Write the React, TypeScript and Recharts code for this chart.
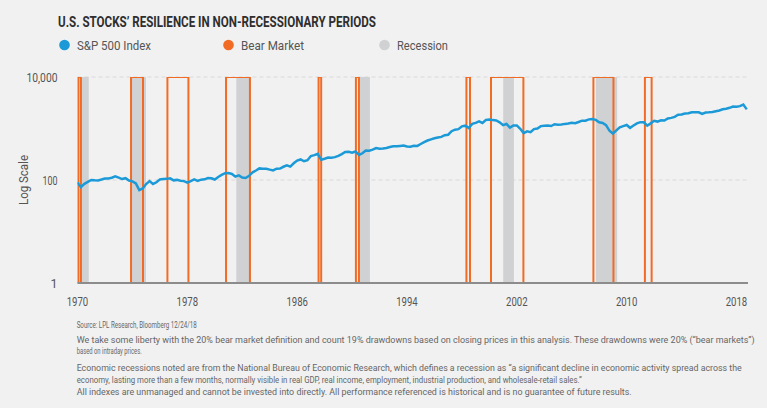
// S&P 500 on a log scale with bear markets (orange boxes) and recessions (grey bands)

import React from 'react'
import { ComposedChart, Line, XAxis, YAxis, CartesianGrid, ReferenceArea } from 'recharts'

// ============================================
// Data
// ============================================

const firstYear = 1970

// quarterly S&P 500 closes, 1970 Q1 .. 2018 Q4 (last one = 12/24/18)
const sp500Quarterly = [
  89.6, 72.7, 84.3, 92.2,
  100.3, 99.0, 98.3, 102.1,
  107.2, 107.1, 110.6, 118.1,
  111.5, 104.3, 108.4, 97.6,
  94.0, 86.0, 63.5, 68.6,
  83.4, 95.2, 83.9, 90.2,
  102.8, 104.3, 105.2, 107.5,
  98.4, 100.5, 96.5, 95.1,
  89.2, 95.5, 102.5, 96.1,
  101.6, 102.9, 109.3, 107.9,
  102.1, 114.2, 125.5, 135.8,
  136.0, 131.2, 116.2, 122.6,
  112.0, 109.6, 120.4, 140.6,
  153.0, 168.1, 166.1, 164.9,
  159.2, 153.2, 166.1, 167.2,
  180.7, 191.9, 182.1, 211.3,
  238.9, 250.8, 231.3, 242.2,
  291.7, 304.0, 321.8, 247.1,
  258.9, 273.5, 271.9, 277.7,
  294.9, 318.0, 349.2, 353.4,
  339.9, 358.0, 306.1, 330.2,
  375.2, 371.2, 387.9, 417.1,
  403.7, 408.1, 417.8, 435.7,
  451.7, 450.5, 458.9, 466.5,
  445.8, 444.3, 462.7, 459.3,
  500.7, 544.8, 584.4, 615.9,
  645.5, 670.6, 687.3, 740.7,
  757.1, 885.1, 947.3, 970.4,
  1101.8, 1133.8, 1017.0, 1229.2,
  1286.4, 1372.7, 1282.7, 1469.3,
  1498.6, 1454.6, 1436.5, 1320.3,
  1160.3, 1224.4, 1040.9, 1148.1,
  1147.4, 989.8, 815.3, 879.8,
  848.2, 974.5, 996.0, 1111.9,
  1126.2, 1140.8, 1114.6, 1211.9,
  1180.6, 1191.3, 1228.8, 1248.3,
  1294.8, 1270.2, 1335.9, 1418.3,
  1420.9, 1503.4, 1526.8, 1468.4,
  1322.7, 1280.0, 1166.4, 903.3,
  797.9, 919.3, 1057.1, 1115.1,
  1169.4, 1030.7, 1141.2, 1257.6,
  1325.8, 1320.6, 1131.4, 1257.6,
  1408.5, 1362.2, 1440.7, 1426.2,
  1569.2, 1606.3, 1681.6, 1848.4,
  1872.3, 1960.2, 1972.3, 2058.9,
  2067.9, 2063.1, 1920.0, 2043.9,
  2059.7, 2098.9, 2168.3, 2238.8,
  2362.7, 2423.4, 2519.4, 2673.6,
  2640.9, 2718.4, 2914.0, 2351.1,
]

// bear market windows (as drawn)
const bearStart = [1970.05, 1973.9, 1976.55, 1980.82, 1987.56, 1990.28, 1998.33, 2000.12, 2007.58, 2011.33]
const bearEnd = [1970.25, 1974.77, 1978.08, 1982.56, 1987.75, 1990.5, 1998.59, 2002.48, 2009.04, 2011.82]

// recession windows (as drawn)
const recessionStart = [1970.0, 1973.95, 1981.57, 1990.45, 2001.01, 2007.76]
const recessionEnd = [1970.82, 1974.99, 1982.6, 1991.3, 2001.79, 2009.31]

const xTicks = [1970, 1978, 1986, 1994, 2002, 2010, 2018]
const yTicks = [1, 100, 10000]
const yTickLabels = ['1', '100', '10,000']

const footnotes = [
  'Source: LPL Research, Bloomberg  12/24/18',
  'We take some liberty with the 20% bear market definition and count 19% drawdowns based on closing prices in this analysis. These drawdowns were 20% (\u201Cbear markets\u201D)',
  'based on intraday prices.',
  'Economic recessions noted are from the National Bureau of Economic Research, which defines a recession as \u201Ca significant decline in economic activity spread across the',
  'economy, lasting more than a few months, normally visible in real GDP, real income, employment, industrial production, and wholesale-retail sales.\u201D',
  'All indexes are unmanaged and cannot be invested into directly. All performance referenced is historical and is no guarantee of future results.',
]

// ============================================
// Styles
// ============================================

const BLUE = '#1b9ad7'
const ORANGE = '#f26b25'
const GREY = '#d0d1d3'
const BG = '#f1f1f1'
const FONT = 'Roboto, "Liberation Sans", sans-serif'

const footX = 76.7
const footBaselines = [328.3, 342.5, 354, 370.6, 382.5, 394.5]
const footWidths = [120, 678, 65, 665, 505, 555]

const chartData = sp500Quarterly.map((v, i) => ({ x: firstYear + i * 0.25, sp500: v }))

// ============================================
// Ticks
// ============================================

function XTick({ x, y, payload }: any) {
  return (
    <text
      x={x}
      y={y + 23}
      textAnchor="middle"
      fontSize={12}
      fill="#555"
      fontFamily={FONT}
      textLength={21.5}
      lengthAdjust="spacingAndGlyphs"
    >
      {payload.value}
    </text>
  )
}

function YTick({ x, y, payload }: any) {
  const label = yTickLabels[yTicks.indexOf(payload.value)]
  const widths: Record<string, number> = { '100': 15, '10,000': 31 }
  return (
    <text
      x={x}
      y={y + 4.5}
      textAnchor="end"
      fontSize={12.5}
      fill="#555"
      fontFamily={FONT}
      textLength={widths[label]}
      lengthAdjust="spacingAndGlyphs"
    >
      {label}
    </text>
  )
}

// ============================================
// App
// ============================================

export default function App() {
  return (
    <div
      style={{
        position: 'absolute',
        left: 0,
        top: 0,
        width: 767,
        height: 408,
        background: BG,
        overflow: 'hidden',
      }}
    >
      <ComposedChart
        width={767}
        height={408}
        data={chartData}
        margin={{ top: 77, right: 19, bottom: 95, left: 0 }}
      >
        <CartesianGrid vertical={false} stroke="#d9d9d9" strokeDasharray="4 3" />
        {recessionStart.map((s, i) => (
          <ReferenceArea
            key={`rec-${i}`}
            x1={s}
            x2={recessionEnd[i]}
            fill={GREY}
            fillOpacity={1}
            stroke="none"
            ifOverflow="hidden"
          />
        ))}
        <XAxis
          dataKey="x"
          type="number"
          domain={[1970, 2018.84]}
          ticks={xTicks}
          allowDataOverflow
          height={30}
          axisLine={{ stroke: '#8c8c8c', strokeWidth: 2 }}
          tickLine={false}
          tickSize={0}
          tickMargin={0}
          tick={<XTick />}
        />
        <YAxis
          type="number"
          scale="log"
          domain={[1, 10000]}
          ticks={yTicks}
          allowDataOverflow
          width={77.5}
          axisLine={false}
          tickLine={false}
          tickSize={0}
          tickMargin={20}
          tick={<YTick />}
        />
        <Line
          type="linear"
          dataKey="sp500"
          stroke={BLUE}
          strokeWidth={2.5}
          dot={false}
          isAnimationActive={false}
        />
        {bearStart.map((s, i) => (
          <ReferenceArea
            key={`bear-${i}`}
            x1={s}
            x2={bearEnd[i]}
            fill="none"
            stroke={ORANGE}
            strokeWidth={2}
            ifOverflow="hidden"
          />
        ))}
      </ComposedChart>

      {/* title, legend, axis title, footnotes */}
      <svg
        width={767}
        height={408}
        style={{ position: 'absolute', left: 0, top: 0, pointerEvents: 'none' }}
      >
        <text
          x={58}
          y={26.7}
          fontSize={14}
          fontWeight="bold"
          fill="#2e2e2e"
          fontFamily={FONT}
          textLength={318}
          lengthAdjust="spacingAndGlyphs"
        >
          U.S. STOCKS&#8217; RESILIENCE IN NON-RECESSIONARY PERIODS
        </text>

        <circle cx={64.5} cy={45} r={5.3} fill={BLUE} />
        <text x={77} y={50} fontSize={13} fill="#555" fontFamily={FONT} textLength={74} lengthAdjust="spacingAndGlyphs">
          S&amp;P 500 Index
        </text>
        <circle cx={228.5} cy={45} r={5.3} fill={ORANGE} />
        <text x={241} y={50} fontSize={13} fill="#555" fontFamily={FONT} textLength={63} lengthAdjust="spacingAndGlyphs">
          Bear Market
        </text>
        <circle cx={384.5} cy={45} r={5.3} fill={GREY} />
        <text x={397} y={50} fontSize={13} fill="#555" fontFamily={FONT} textLength={51} lengthAdjust="spacingAndGlyphs">
          Recession
        </text>

        <text
          x={0}
          y={0}
          transform="translate(27.5,180) rotate(-90)"
          textAnchor="middle"
          fontSize={12.5}
          fill="#555"
          fontFamily={FONT}
          textLength={50}
          lengthAdjust="spacingAndGlyphs"
        >
          Log Scale
        </text>

        {footnotes.map((line, i) => (
          <text
            key={i}
            x={footX}
            y={footBaselines[i]}
            fontSize={9}
            fill="#666"
            fontFamily={FONT}
            textLength={footWidths[i]}
            lengthAdjust="spacingAndGlyphs"
          >
            {line}
          </text>
        ))}
      </svg>
    </div>
  )
}
